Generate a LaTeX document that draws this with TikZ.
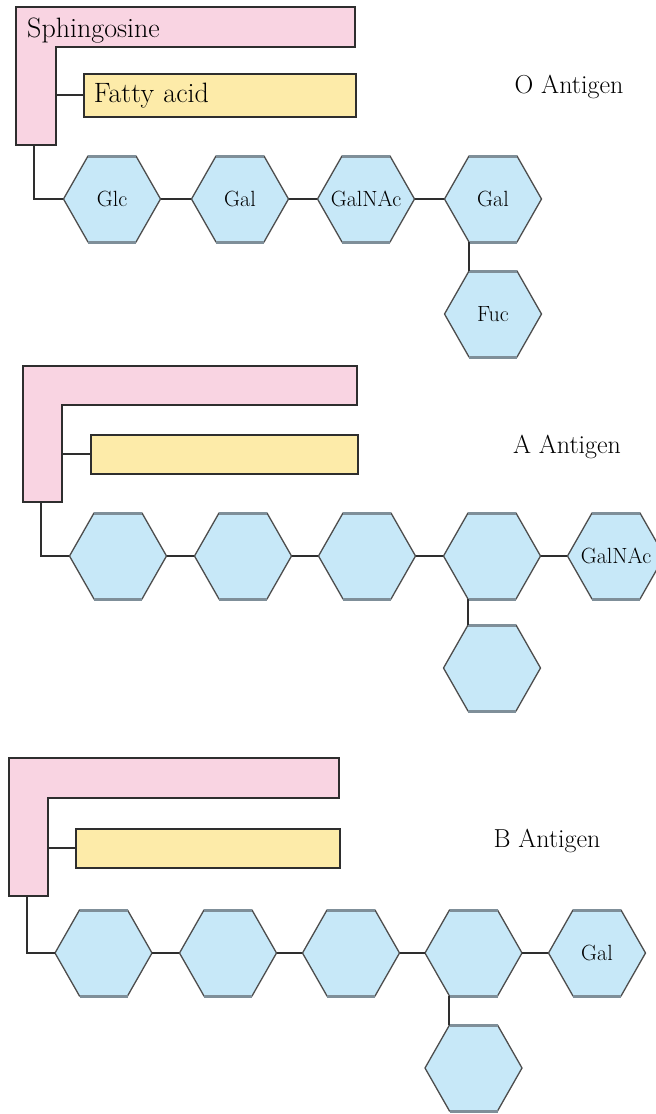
\documentclass[tikz,border=0pt]{standalone}
\usetikzlibrary{calc}
\definecolor{pinkf}{HTML}{F9D4E2}
\definecolor{yellowf}{HTML}{FDEBA9}
\definecolor{bluef}{HTML}{C7E8F8}
\definecolor{edgedark}{HTML}{2E2E2E}
\definecolor{hexgray}{HTML}{7F8F99}
\tikzset{
  lshape/.style={fill=pinkf, draw=edgedark, line width=1.8pt, line join=miter},
  fabox/.style={fill=yellowf, draw=edgedark, line width=1.8pt, minimum height=43pt,
     align=left, inner xsep=10pt, anchor=north west, font=\fontsize{28}{30}\selectfont},
  conn/.style={draw=edgedark, line width=2pt},
  hexline/.style={fill=bluef, draw=edgedark!85, line width=1.3pt},
  hexedge/.style={draw=hexgray, line width=3pt},
  hexnode/.style={minimum width=97pt, minimum height=86pt, inner sep=0pt, font=\fontsize{22}{24}\selectfont},
  sphtext/.style={anchor=base west, inner sep=0pt, font=\fontsize{28}{30}\selectfont},
  antlabel/.style={anchor=base, inner sep=0pt, font=\fontsize{26}{28}\selectfont}
}
\newcommand{\hexa}[4]{%
  \filldraw[hexline] ({#2-48.5},{#3}) -- ({#2-24},{#3-43}) -- ({#2+24},{#3-43}) -- ({#2+48.5},{#3})
     -- ({#2+24},{#3+43}) -- ({#2-24},{#3+43}) -- cycle;
  \draw[hexedge] ({#2-24},{#3-43}) -- ({#2+24},{#3-43}) ({#2-24},{#3+43}) -- ({#2+24},{#3+43});
  \node[hexnode] (#1) at (#2,#3) {#4};
}
\begin{document}
\begin{tikzpicture}[x=1pt,y=-1pt]
\useasboundingbox (0,0) rectangle (656,1114);
\clip (0,0) rectangle (656,1114);
\fill[white] (0,0) rectangle (656,1114);

% ---------- O antigen ----------
\filldraw[lshape] (16,7) -- (355,7) -- (355,47) -- (56,47) -- (56,145) -- (16,145) -- cycle;
\node[sphtext] (sph1) at (27,37) {Sphingosine};
\node[fabox, text width=252pt] (fa1) at (83,73) {Fatty acid};
\coordinate (p1b) at (34,145);
\coordinate (p1r) at (56,94.5);
\hexa{o1}{112}{199}{Glc}
\hexa{o2}{240}{199}{Gal}
\hexa{o3}{366}{199}{GalNAc}
\hexa{o4}{493}{199}{Gal}
\hexa{o5}{493}{314}{Fuc}
\draw[conn] (fa1.west -| p1r) -- (fa1.west);
\draw[conn] (p1b) |- (o1.west);
\draw[conn] (o1.east) -- (o2.west);
\draw[conn] (o2.east) -- (o3.west);
\draw[conn] (o3.east) -- (o4.west);
\draw[conn] ($(o4.south west)+(24.5,0)$) -- ($(o5.north west)+(24.5,0)$);
\node[antlabel] (lo) at (569,93) {O Antigen};

% ---------- A antigen ----------
\filldraw[lshape] (23,366) -- (357,366) -- (357,405) -- (62,405) -- (62,502) -- (23,502) -- cycle;
\node[fabox, text width=247pt, minimum height=39pt] (fa2) at (90,434) {};
\coordinate (p2b) at (41,502);
\coordinate (p2r) at (62,453.5);
\hexa{a1}{118}{556}{}
\hexa{a2}{243}{556}{}
\hexa{a3}{367}{556}{}
\hexa{a4}{492}{556}{}
\hexa{a5}{616}{556}{GalNAc}
\hexa{a6}{492}{668}{}
\draw[conn] (fa2.west -| p2r) -- (fa2.west);
\draw[conn] (p2b) |- (a1.west);
\draw[conn] (a1.east) -- (a2.west);
\draw[conn] (a2.east) -- (a3.west);
\draw[conn] (a3.east) -- (a4.west);
\draw[conn] (a4.east) -- (a5.west);
\draw[conn] ($(a4.south west)+(24.5,0)$) -- ($(a6.north west)+(24.5,0)$);
\node[antlabel] (la) at (567,453) {A Antigen};

% ---------- B antigen ----------
\filldraw[lshape] (9,758) -- (339,758) -- (339,798) -- (48,798) -- (48,896) -- (9,896) -- cycle;
\node[fabox, text width=244pt, minimum height=39pt] (fa3) at (75,828) {};
\coordinate (p3b) at (27,896);
\coordinate (p3r) at (48,847.5);
\hexa{b1}{103.5}{953}{}
\hexa{b2}{228}{953}{}
\hexa{b3}{351}{953}{}
\hexa{b4}{473.5}{953}{}
\hexa{b5}{597}{953}{Gal}
\hexa{b6}{473.5}{1068}{}
\draw[conn] (fa3.west -| p3r) -- (fa3.west);
\draw[conn] (p3b) |- (b1.west);
\draw[conn] (b1.east) -- (b2.west);
\draw[conn] (b2.east) -- (b3.west);
\draw[conn] (b3.east) -- (b4.west);
\draw[conn] (b4.east) -- (b5.west);
\draw[conn] ($(b4.south west)+(24.5,0)$) -- ($(b6.north west)+(24.5,0)$);
\node[antlabel] (lb) at (547,847) {B Antigen};
\end{tikzpicture}
\end{document}
